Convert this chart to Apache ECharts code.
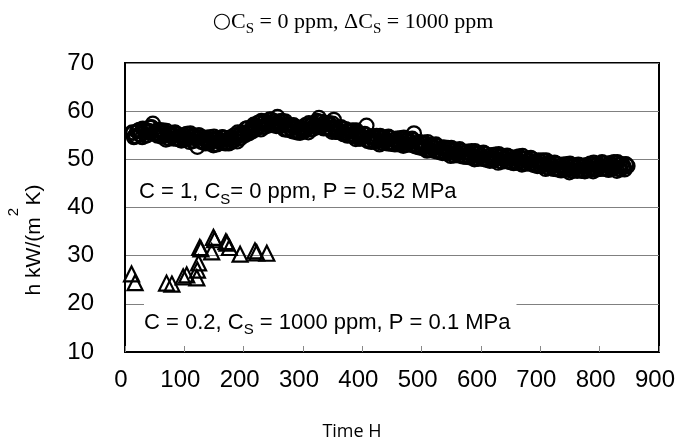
<!DOCTYPE html>
<html><head><meta charset="utf-8">
<script src="https://cdn.jsdelivr.net/npm/echarts@6/dist/echarts.min.js"></script>
<style>html,body{margin:0;padding:0;background:#fff}#c{width:685px;height:444px}</style>
</head><body><div id="c"></div>
<script>
// Time (h), heat transfer coefficient h kW/(m2K), Cs = 0 ppm (circles) in three passes
const circleDataA = [
[12,55.6],[17,54.8],[22,55.9],[27,55.1],[32,56.2],[37,55.0],[42,56.6],[47,57.4],[52,55.3],[57,56.1],
[62,54.7],[67,55.6],[72,54.4],[77,55.3],[82,54.3],[87,55.2],[92,54.1],[97,55.0],[102,54.3],[107,55.1],
[112,53.9],[117,54.8],[122,52.6],[127,54.6],[132,53.6],[137,54.5],[142,53.3],[147,54.2],[152,53.2],[157,54.3],
[162,53.4],[167,54.4],[172,53.5],[177,54.5],[182,53.8],[187,55.0],[192,54.3],[197,55.6],[202,55.0],[207,56.5],
[212,55.9],[217,57.2],[222,56.4],[227,57.6],[232,56.8],[237,57.9],[242,57.0],[247,58.2],[252,57.3],[257,58.8],
[262,57.0],[267,57.7],[272,56.3],[277,57.1],[282,55.8],[287,56.7],[292,55.6],[297,56.6],[302,55.8],[307,57.0],
[312,56.2],[317,57.4],[322,56.6],[327,58.6],[332,57.8],[337,56.6],[342,57.5],[347,56.2],[352,58.2],[357,55.7],
[362,56.6],[367,55.3],[372,56.3],[377,55.0],[382,55.9],[387,54.7],[392,55.5],[397,54.3],[402,55.2],[407,57.0],
[412,53.9],[417,54.8],[422,53.6],[427,54.6],[432,53.5],[437,54.5],[442,53.3],[447,54.4],[452,53.3],[457,54.3],
[462,53.1],[467,54.2],[472,53.1],[477,54.0],[482,53.0],[487,55.4],[492,52.8],[497,53.6],[502,52.3],[507,53.2],
[512,52.0],[517,52.9],[522,51.7],[527,52.7],[532,51.5],[537,52.5],[542,51.2],[547,52.1],[552,51.0],[557,51.9],
[562,50.8],[567,51.7],[572,50.6],[577,51.6],[582,50.4],[587,51.4],[592,50.3],[597,51.2],[602,50.1],[607,51.1],
[612,50.0],[617,50.9],[622,49.8],[627,50.7],[632,49.7],[637,50.6],[642,49.6],[647,50.5],[652,49.5],[657,50.4],
[662,49.3],[667,50.3],[672,49.2],[677,50.2],[682,49.1],[687,50.0],[692,48.8],[697,49.8],[702,48.6],[707,49.6],
[712,48.3],[717,49.2],[722,48.0],[727,49.1],[732,47.9],[737,48.9],[742,47.8],[747,48.8],[752,47.7],[757,48.7],
[762,47.6],[767,48.7],[772,47.7],[777,48.8],[782,47.8],[787,48.9],[792,47.9],[797,49.0],[802,48.0],[807,49.1],
[812,48.1],[817,49.2],[822,48.1],[827,49.1],[832,48.0],[837,49.0],[842,47.9],[847,48.6]
];
const circleDataB = [
[15,54.6],[20,55.8],[25,55.2],[30,56.4],[35,54.9],[40,55.9],[45,56.6],[50,55.4],[55,54.9],[60,55.8],
[65,55.0],[70,55.9],[75,54.3],[80,55.1],[85,55.5],[90,54.4],[95,53.9],[100,55.0],[105,54.3],[110,55.4],
[115,53.8],[120,54.5],[125,55.0],[130,53.8],[135,53.3],[140,54.2],[145,53.7],[150,54.7],[155,53.1],[160,53.9],
[165,54.5],[170,53.5],[175,53.3],[180,54.4],[185,54.1],[190,55.6],[195,54.4],[200,55.4],[205,56.3],[210,55.7],
[215,55.8],[220,57.1],[225,56.8],[230,58.0],[235,56.7],[240,57.5],[245,58.2],[250,57.3],[255,56.9],[260,57.8],
[265,57.1],[270,57.9],[275,56.1],[280,56.5],[285,56.9],[290,55.8],[295,55.5],[300,56.4],[305,56.2],[310,57.5],
[315,56.2],[320,57.1],[325,57.8],[330,56.9],[335,56.4],[340,57.3],[345,56.6],[350,57.4],[355,55.7],[360,56.1],
[365,56.5],[370,55.4],[375,54.9],[380,55.7],[385,55.1],[390,56.0],[395,54.3],[400,54.7],[405,55.1],[410,54.0],
[415,53.6],[420,54.5],[425,53.9],[430,54.9],[435,53.4],[440,54.0],[445,54.5],[450,53.4],[455,53.1],[460,54.0],
[465,53.5],[470,54.5],[475,53.0],[480,53.7],[485,54.0],[490,52.9],[495,52.5],[500,53.3],[505,52.6],[510,53.6],
[515,51.9],[520,52.5],[525,52.8],[530,51.7],[535,51.3],[540,52.1],[545,51.5],[550,52.4],[555,50.8],[560,51.4],
[565,51.9],[570,50.8],[575,50.5],[580,51.3],[585,50.7],[590,51.7],[595,50.1],[600,50.8],[605,51.2],[610,50.1],
[615,49.7],[620,50.6],[625,50.1],[630,51.1],[635,49.5],[640,50.2],[645,50.6],[650,49.6],[655,49.2],[660,50.2],
[665,49.6],[670,50.7],[675,49.1],[680,49.7],[685,50.1],[690,49.0],[695,48.6],[700,49.5],[705,48.9],[710,49.8],
[715,48.2],[720,48.8],[725,49.1],[730,48.0],[735,47.7],[740,48.6],[745,48.1],[750,49.1],[755,47.6],[760,48.3],
[765,48.8],[770,47.8],[775,47.5],[780,48.6],[785,48.2],[790,49.3],[795,47.9],[800,48.6],[805,49.2],[810,48.2],
[815,47.8],[820,48.9],[825,48.4],[830,49.4],[835,47.9],[840,48.6],[845,48.9]
];
const circleDataC = [
[14,55.5],[19,54.8],[24,56.1],[29,54.6],[34,56.0],[39,55.6],[44,56.7],[49,55.4],[54,56.0],[59,55.0],
[64,56.0],[69,54.1],[74,55.3],[79,54.8],[84,55.6],[89,54.2],[94,54.9],[99,54.1],[104,55.3],[109,53.6],
[114,54.9],[119,54.3],[124,55.0],[129,53.6],[134,54.3],[139,53.5],[144,54.6],[149,52.9],[154,54.2],[159,53.7],
[164,54.6],[169,53.3],[174,54.2],[179,53.6],[184,55.0],[189,53.7],[194,55.3],[199,55.1],[204,56.4],[209,55.4],
[214,56.6],[219,56.2],[224,57.6],[229,56.2],[234,57.6],[239,57.3],[244,58.3],[249,57.1],[254,57.9],[259,57.1],
[264,58.0],[269,56.2],[274,57.2],[279,56.4],[284,57.1],[289,55.6],[294,56.4],[299,55.7],[304,57.1],[309,55.6],
[314,57.2],[319,56.9],[324,58.0],[329,56.7],[334,57.4],[339,56.5],[344,57.5],[349,55.7],[354,56.7],[359,56.0],
[364,56.7],[369,55.2],[374,55.8],[379,55.0],[384,56.0],[389,54.2],[394,55.3],[399,54.6],[404,55.3],[409,53.8],
[414,54.6],[419,53.8],[424,54.9],[429,53.1],[434,54.4],[439,53.9],[444,54.7],[449,53.2],[454,54.0],[459,53.3],
[464,54.4],[469,52.8],[474,54.0],[479,53.5],[484,54.3],[489,52.7],[494,53.4],[499,52.5],[504,53.5],[509,51.8],
[514,53.0],[519,52.3],[524,53.1],[529,51.5],[534,52.2],[539,51.4],[544,52.4],[549,50.7],[554,51.8],[559,51.2],
[564,52.1],[569,50.6],[574,51.4],[579,50.6],[584,51.7],[589,50.0],[594,51.2],[599,50.6],[604,51.4],[609,49.9],
[614,50.6],[619,49.8],[624,51.0],[629,49.3],[634,50.6],[639,50.0],[644,50.8],[649,49.4],[654,50.2],[659,49.4],
[664,50.6],[669,48.9],[674,50.1],[679,49.6],[684,50.3],[689,48.8],[694,49.5],[699,48.7],[704,49.8],[709,48.0],
[714,49.2],[719,48.6],[724,49.3],[729,47.9],[734,48.6],[739,47.8],[744,49.0],[749,47.3],[754,48.6],[759,48.1],
[764,48.9],[769,47.6],[774,48.5],[779,47.7],[784,49.1],[789,47.5],[794,48.9],[799,48.4],[804,49.4],[809,48.0],
[814,48.8],[819,48.0],[824,49.4],[829,47.6],[834,48.9],[839,48.4],[844,49.0]
];
// Cs = 1000 ppm (triangles)
const triangleData = [
[11,26.2],[17,24.4],[70,24.3],[79,24.1],[98,25.6],[104,26.0],[121,25.4],[122,27.0],[124,28.5],[126,31.7],
[128,31.4],[146,30.8],[149,33.8],[151,33.3],[170,32.9],[172,32.6],[176,31.7],[194,30.3],[219,31.0],[222,30.6],
[239,30.5]
];
const xMin = 0, xMax = 900, xStep = 100;
const yMin = 10, yMax = 70, yStep = 10;

const circleData = circleDataA.concat(circleDataB, circleDataC);

const chart = echarts.init(document.getElementById('c'), null, {renderer: 'canvas'});
const sans = 'Liberation Sans, Arial, sans-serif';
const serif = 'Liberation Serif, Times New Roman, serif';
chart.setOption({
  animation: false,
  backgroundColor: '#fff',
  grid: {left: 125, right: 26, top: 63, bottom: 92, show: true, borderColor: '#000', borderWidth: 2, backgroundColor: 'transparent'},
  xAxis: {
    type: 'value', min: xMin, max: xMax, interval: xStep,
    axisLine: {show: true, onZero: false, lineStyle: {color: '#000', width: 2}},
    axisTick: {show: true, inside: true, length: 6, lineStyle: {color: '#888', width: 1}},
    axisLabel: {color: '#000', fontSize: 24, fontFamily: sans, margin: 16, padding: [0, 8, 0, 0]},
    splitLine: {show: false}
  },
  yAxis: {
    type: 'value', min: yMin, max: yMax, interval: yStep,
    axisLine: {show: true, onZero: false, lineStyle: {color: '#000', width: 2}},
    axisTick: {show: false},
    axisLabel: {color: '#000', fontSize: 24, fontFamily: sans, margin: 31},
    splitLine: {show: true, lineStyle: {color: '#808080', width: 1}}
  },
  series: [
    {type: 'scatter', data: circleData, symbol: 'circle', symbolSize: 14, large: false,
     itemStyle: {color: 'rgba(0,0,0,0)', borderColor: '#000', borderWidth: 2.2, opacity: 1}, z: 3},
    {type: 'scatter', data: triangleData, symbol: 'triangle', symbolSize: 15,
     itemStyle: {color: 'rgba(0,0,0,0)', borderColor: '#000', borderWidth: 2.2, opacity: 1}, z: 3}
  ],
  graphic: [
    {type: 'text', x: 353, y: 22, z: 10, style: {
      text: '{c|○}C{s|S} = 0 ppm, ΔC{s|S} = 1000 ppm', align: 'center', verticalAlign: 'middle',
      font: '22px ' + serif, fill: '#000', lineHeight: 30,
      rich: {s: {fontSize: 15, fontFamily: serif, lineHeight: 22, verticalAlign: 'bottom', fill: '#000'},
             c: {fontSize: 21, fontFamily: 'DejaVu Sans', lineHeight: 30, fill: '#000'}}
    }},
    {type: 'text', x: 139, y: 192, z: 10, style: {
      text: 'C = 1, C{s|S}= 0 ppm, P = 0.52 MPa', align: 'left', verticalAlign: 'middle',
      font: '22px ' + sans, fill: '#000', lineHeight: 30,
      rich: {s: {fontSize: 15, fontFamily: sans, lineHeight: 22, verticalAlign: 'bottom', fill: '#000'}}
    }},
    {type: 'text', x: 144, y: 320.5, z: 10, style: {
      text: 'C = 0.2, C{s|S} = 1000 ppm, P = 0.1 MPa', align: 'left', verticalAlign: 'middle',
      font: '22px ' + sans, fill: '#000', lineHeight: 30, backgroundColor: '#fff', padding: [6, 6, 2, 0],
      rich: {s: {fontSize: 15, fontFamily: sans, lineHeight: 22, verticalAlign: 'bottom', fill: '#000'}}
    }},
    {type: 'text', x: 34, y: 240, rotation: Math.PI / 2, z: 10, style: {
      text: 'h kW/(m  K)', align: 'center', verticalAlign: 'middle', font: '21px ' + sans, fill: '#000'
    }},
    {type: 'text', x: 14, y: 212, rotation: Math.PI / 2, z: 10, style: {
      text: '2', align: 'center', verticalAlign: 'middle', font: '15px ' + sans, fill: '#000'
    }},
    {type: 'text', x: 352, y: 432, z: 10, style: {
      text: 'Time H', align: 'center', verticalAlign: 'middle', font: '18px Open Sans, sans-serif', fill: '#000'
    }}
  ]
});
</script>
</body></html>
